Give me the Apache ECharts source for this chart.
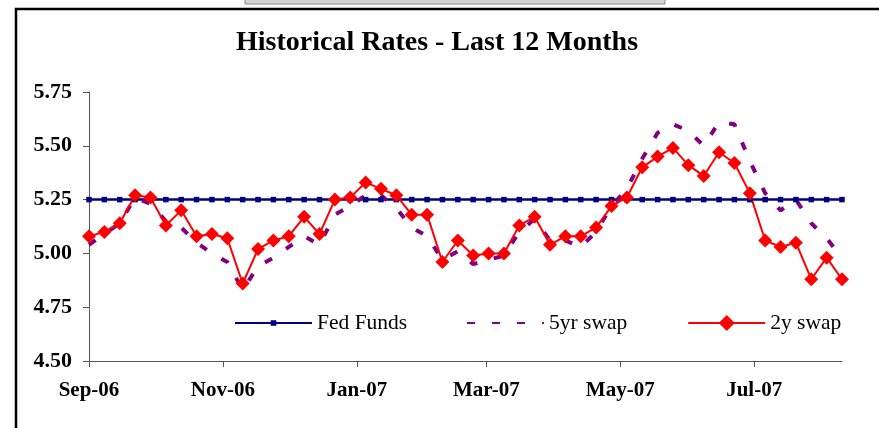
<!DOCTYPE html>
<html>
<head>
<meta charset="utf-8">
<title>Historical Rates</title>
<script src="https://cdn.jsdelivr.net/npm/echarts@6/dist/echarts.min.js"></script>
<style>
  html, body { margin: 0; padding: 0; background: #fff; }
  #chart { width: 879px; height: 428px; }
</style>
</head>
<body>
<div id="chart"></div>
<script>
// weekly observations, Sep-06 .. Aug-07
var dates = [
  '2006-09-01', '2006-09-08', '2006-09-15', '2006-09-22', '2006-09-29',
  '2006-10-06', '2006-10-13', '2006-10-20', '2006-10-27',
  '2006-11-03', '2006-11-10', '2006-11-17', '2006-11-24',
  '2006-12-01', '2006-12-08', '2006-12-15', '2006-12-22', '2006-12-29',
  '2007-01-05', '2007-01-12', '2007-01-19', '2007-01-26',
  '2007-02-02', '2007-02-09', '2007-02-16', '2007-02-23',
  '2007-03-02', '2007-03-09', '2007-03-16', '2007-03-23', '2007-03-30',
  '2007-04-06', '2007-04-13', '2007-04-20', '2007-04-27',
  '2007-05-04', '2007-05-11', '2007-05-18', '2007-05-25',
  '2007-06-01', '2007-06-08', '2007-06-15', '2007-06-22', '2007-06-29',
  '2007-07-06', '2007-07-13', '2007-07-20', '2007-07-27',
  '2007-08-03', '2007-08-10'
];
var fedFunds = [
  5.25, 5.25, 5.25, 5.25, 5.25, 5.25, 5.25, 5.25, 5.25, 5.25,
  5.25, 5.25, 5.25, 5.25, 5.25, 5.25, 5.25, 5.25, 5.25, 5.25,
  5.25, 5.25, 5.25, 5.25, 5.25, 5.25, 5.25, 5.25, 5.25, 5.25,
  5.25, 5.25, 5.25, 5.25, 5.25, 5.25, 5.25, 5.25, 5.25, 5.25,
  5.25, 5.25, 5.25, 5.25, 5.25, 5.25, 5.25, 5.25, 5.25, 5.25
];
var swap5y = [
  5.04, 5.09, 5.14, 5.26, 5.23, 5.15, 5.12, 5.05, 5.00, 4.96,
  4.83, 4.94, 4.98, 5.03, 5.08, 5.04, 5.18, 5.22, 5.27, 5.27,
  5.21, 5.12, 5.08, 4.97, 5.01, 4.95, 4.97, 4.99, 5.10, 5.16,
  5.06, 5.06, 5.03, 5.10, 5.22, 5.30, 5.44, 5.56, 5.60, 5.57,
  5.50, 5.61, 5.60, 5.43, 5.28, 5.20, 5.25, 5.14, 5.07, 4.98
];
var swap2y = [
  5.08, 5.10, 5.14, 5.27, 5.26, 5.13, 5.20, 5.08, 5.09, 5.07,
  4.86, 5.02, 5.06, 5.08, 5.17, 5.09, 5.25, 5.26, 5.33, 5.30,
  5.27, 5.18, 5.18, 4.96, 5.06, 4.99, 5.00, 5.00, 5.13, 5.17,
  5.04, 5.08, 5.08, 5.12, 5.22, 5.26, 5.40, 5.45, 5.49, 5.41,
  5.36, 5.47, 5.42, 5.28, 5.06, 5.03, 5.05, 4.88, 4.98, 4.88
];
var monthNames = ['Jan', 'Feb', 'Mar', 'Apr', 'May', 'Jun', 'Jul', 'Aug', 'Sep', 'Oct', 'Nov', 'Dec'];

function pairs(vals) {
  return vals.map(function (v, i) { return [dates[i], v]; });
}

var myChart = echarts.init(document.getElementById('chart'));
var serif = "'Liberation Serif', 'Times New Roman', serif";

var option = {
  backgroundColor: '#fff',
  animation: false,
  title: {
    text: 'Historical Rates - Last 12 Months',
    left: 432,
    textAlign: 'center',
    top: 24,
    textStyle: { fontFamily: serif, fontWeight: 'bold', fontSize: 28, color: '#000' }
  },
  graphic: [
    {
      type: 'rect',
      shape: { x: 245, y: -3, width: 420, height: 7 },
      style: { fill: '#d4d4d4', stroke: '#8a8a8a', lineWidth: 1 }
    },
    {
      type: 'polyline',
      shape: { points: [[16, 428], [16, 9], [879, 9]] },
      style: { stroke: '#000', lineWidth: 2.5, fill: null }
    }
  ],
  legend: [
    {
      data: ['Fed Funds'],
      left: 234,
      top: 312,
      padding: 0,
      itemWidth: 77,
      itemHeight: 7,
      textStyle: { fontFamily: serif, fontSize: 21.5, color: '#000' }
    },
    {
      data: [{ name: '5yr swap', itemStyle: { opacity: 0 } }, '2y swap'],
      left: 466,
      top: 312,
      padding: 0,
      itemGap: 60,
      itemWidth: 77,
      itemHeight: 20,
      textStyle: { fontFamily: serif, fontSize: 21.5, color: '#000' }
    }
  ],
  grid: { left: 89, right: 37, top: 92, bottom: 67 },
  xAxis: {
    type: 'time',
    min: new Date(2006, 8, 1).getTime(),
    max: new Date(2007, 7, 10).getTime(),
    splitNumber: 5,
    axisLine: { lineStyle: { color: '#555', width: 1 } },
    axisTick: { show: true, length: 6, lineStyle: { color: '#555' } },
    splitLine: { show: false },
    axisLabel: {
      margin: 19,
      color: '#000',
      fontFamily: serif,
      fontWeight: 'bold',
      fontSize: 21,
      formatter: function (val) {
        var d = new Date(val);
        return monthNames[d.getMonth()] + '-' + String(d.getFullYear()).slice(2);
      }
    }
  },
  yAxis: {
    type: 'value',
    min: 4.5,
    max: 5.75,
    interval: 0.25,
    axisLine: { show: true, lineStyle: { color: '#555', width: 1 } },
    axisTick: { show: true, length: 6, lineStyle: { color: '#555' } },
    splitLine: { show: false },
    axisLabel: {
      margin: 17,
      color: '#000',
      fontFamily: serif,
      fontWeight: 'bold',
      fontSize: 22,
      formatter: function (v) { return v.toFixed(2); }
    }
  },
  series: [
    {
      name: 'Fed Funds',
      type: 'line',
      data: pairs(fedFunds),
      symbol: 'rect',
      symbolSize: 5.5,
      lineStyle: { color: '#000080', width: 2.5 },
      itemStyle: { color: '#000080' }
    },
    {
      name: '5yr swap',
      type: 'line',
      data: pairs(swap5y),
      showSymbol: false,
      symbol: 'none',
      lineStyle: { color: '#800080', width: 4, type: [8, 17], cap: 'butt' },
      itemStyle: { color: '#800080' }
    },
    {
      name: '2y swap',
      type: 'line',
      data: pairs(swap2y),
      symbol: 'diamond',
      symbolSize: 14,
      lineStyle: { color: '#ff0000', width: 2 },
      itemStyle: { color: '#ff0000' }
    }
  ]
};

myChart.setOption(option);
window.addEventListener('resize', function () {
  myChart.resize();
});
</script>
</body>
</html>
